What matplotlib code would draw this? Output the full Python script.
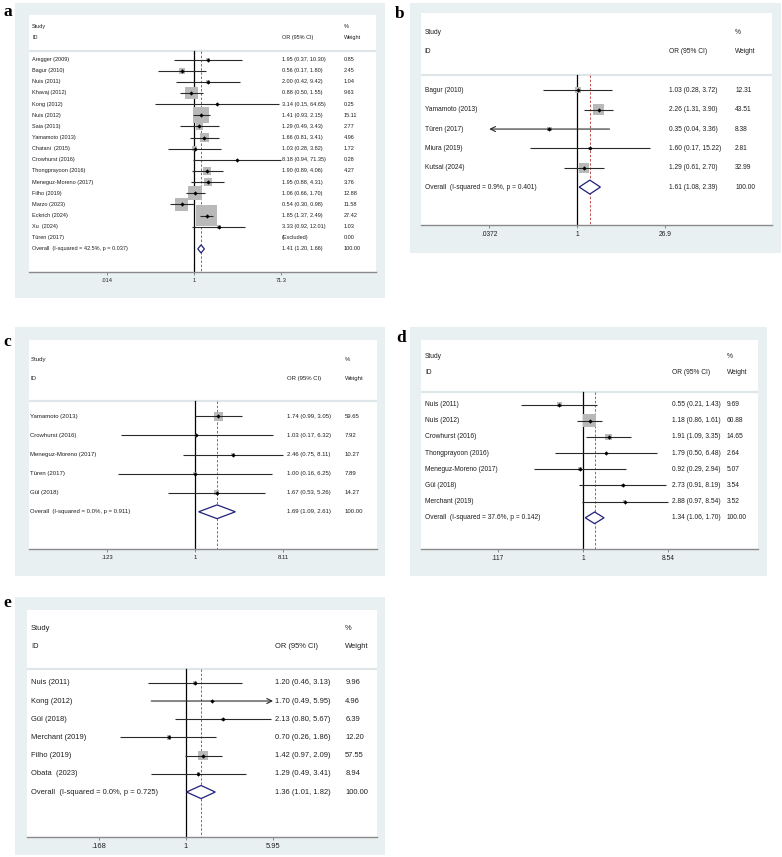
import numpy as np
import matplotlib
matplotlib.use("Agg")
import matplotlib.pyplot as plt
from matplotlib.patches import Rectangle, Polygon
from matplotlib.transforms import blended_transform_factory

plt.rcParams['font.family'] = ['Liberation Sans', 'DejaVu Sans']

# ---------------- data ----------------
a_studies = ["Aregger (2009)", "Bagur (2010)", "Nuis (2011)", "Khavaj (2012)", "Kong (2012)",
             "Nuis (2012)", "Saia (2013)", "Yamamoto (2013)", "Chatani  (2015)", "Crowhurst (2016)",
             "Thongprayoon (2016)", "Meneguz-Moreno (2017)", "Filho (2019)", "Marzo (2023)",
             "Eckrich (2024)", "Xu  (2024)", "Türen (2017)"]
a_or = [1.95, 0.56, 2.00, 0.88, 3.14, 1.41, 1.29, 1.66, 1.03, 8.18, 1.90, 1.95, 1.06, 0.54, 1.85, 3.33, None]
a_lo = [0.37, 0.17, 0.42, 0.50, 0.15, 0.93, 0.49, 0.81, 0.28, 0.94, 0.89, 0.88, 0.66, 0.30, 1.37, 0.92, None]
a_hi = [10.30, 1.80, 9.42, 1.55, 64.65, 2.15, 3.43, 3.41, 3.82, 71.35, 4.06, 4.31, 1.70, 0.98, 2.49, 12.01, None]
a_w = [0.85, 2.45, 1.04, 9.63, 0.25, 15.11, 2.77, 4.96, 1.72, 0.28, 4.27, 3.76, 12.88, 11.58, 27.42, 1.03, 0.00]
a_overall = ("Overall  (I-squared = 42.5%, p = 0.037)", 1.41, 1.20, 1.66)
a_ticks = [0.014, 1, 71.3]
a_ticklabels = [".014", "1", "71.3"]
a_arrows = [""] * 17

b_studies = ["Bagur (2010)", "Yamamoto (2013)", "Türen (2017)", "Miura (2019)", "Kutsal (2024)"]
b_or = [1.03, 2.26, 0.35, 1.60, 1.29]
b_lo = [0.28, 1.31, 0.04, 0.17, 0.61]
b_hi = [3.72, 3.90, 3.36, 15.22, 2.70]
b_w = [12.31, 43.51, 8.38, 2.81, 32.99]
b_overall = ("Overall  (I-squared = 0.9%, p = 0.401)", 1.61, 1.08, 2.39)
b_ticks = [0.0372, 1, 26.9]
b_ticklabels = [".0372", "1", "26.9"]
b_arrows = ["", "", "L", "", ""]

c_studies = ["Yamamoto (2013)", "Crowhurst (2016)", "Meneguz-Moreno (2017)", "Türen (2017)", "Gül (2018)"]
c_or = [1.74, 1.03, 2.46, 1.00, 1.67]
c_lo = [0.99, 0.17, 0.75, 0.16, 0.53]
c_hi = [3.05, 6.32, 8.11, 6.25, 5.26]
c_w = [59.65, 7.92, 10.27, 7.89, 14.27]
c_overall = ("Overall  (I-squared = 0.0%, p = 0.911)", 1.69, 1.09, 2.61)
c_ticks = [0.123, 1, 8.11]
c_ticklabels = [".123", "1", "8.11"]
c_arrows = [""] * 5

d_studies = ["Nuis (2011)", "Nuis (2012)", "Crowhurst (2016)", "Thongprayoon (2016)",
             "Meneguz-Moreno (2017)", "Gül (2018)", "Merchant (2019)"]
d_or = [0.55, 1.18, 1.91, 1.79, 0.92, 2.73, 2.88]
d_lo = [0.21, 0.86, 1.09, 0.50, 0.29, 0.91, 0.97]
d_hi = [1.43, 1.61, 3.35, 6.48, 2.94, 8.19, 8.54]
d_w = [9.69, 60.88, 14.65, 2.64, 5.07, 3.54, 3.52]
d_overall = ("Overall  (I-squared = 37.6%, p = 0.142)", 1.34, 1.06, 1.70)
d_ticks = [0.117, 1, 8.54]
d_ticklabels = [".117", "1", "8.54"]
d_arrows = [""] * 7

e_studies = ["Nuis (2011)", "Kong (2012)", "Gül (2018)", "Merchant (2019)", "Filho (2019)", "Obata  (2023)"]
e_or = [1.20, 1.70, 2.13, 0.70, 1.42, 1.29]
e_lo = [0.46, 0.49, 0.80, 0.26, 0.97, 0.49]
e_hi = [3.13, 5.95, 5.67, 1.86, 2.09, 3.41]
e_w = [9.96, 4.96, 6.39, 12.20, 57.55, 8.94]
e_overall = ("Overall  (I-squared = 0.0%, p = 0.725)", 1.36, 1.01, 1.82)
e_ticks = [0.168, 1, 5.95]
e_ticklabels = [".168", "1", "5.95"]
e_arrows = ["", "R", "", "", "", ""]

# ---------------- layout (pixels) ----------------
W, H = 782, 857
fig = plt.figure(figsize=(W / 100, H / 100), dpi=100)
fig.patch.set_facecolor('white')

BG = '#e9f0f2'
TXT = '#1e1e1e'
BOX = '#b9b9b9'
LINE = '#2a2a2a'
RED = '#c0504d'
NAVY = '#20207a'


def frac_rect(x0, y0, x1, y1):
    return [x0 / W, 1 - y1 / H, (x1 - x0) / W, (y1 - y0) / H]


def panel(letter, label_xy, bg, white, xlim_log, extra, studies, ors, los, his, ws, overall,
          ticks, ticklabels, arrows, fs, k, colx):
    # outer background
    fig.patches.append(Rectangle((bg[0] / W, 1 - bg[3] / H), (bg[2] - bg[0]) / W, (bg[3] - bg[1]) / H,
                                 transform=fig.transFigure, facecolor=BG, edgecolor='none', zorder=-5))
    fig.text(label_xy[0] / W, 1 - label_xy[1] / H, letter, family=['Liberation Serif'], weight='bold',
             fontsize=12.5, ha='left', va='center', color='black')
    ax = fig.add_axes(frac_rect(*white))
    ax.set_zorder(1)
    ax.set_facecolor('white')
    ax.set_xscale('log')
    ax.set_xlim(10 ** xlim_log[0], 10 ** xlim_log[1])
    n = len(studies)
    ax.set_ylim(n + extra, -4.0)
    for s in ['top', 'left', 'right']:
        ax.spines[s].set_visible(False)
    ax.spines['bottom'].set_color('#8a8a8a')
    ax.spines['bottom'].set_linewidth(1.0)
    ax.set_yticks([])
    ax.set_xticks(ticks)
    ax.set_xticklabels(ticklabels)
    ax.minorticks_off()
    ax.tick_params(axis='x', direction='out', length=2.5, width=0.6, color='#777777',
                   labelsize=fs, labelcolor=TXT, pad=2)

    tr = blended_transform_factory(ax.transAxes, ax.transData)
    sx, ox, wx = colx
    ax.text(sx, -3, "Study", transform=tr, fontsize=fs, color=TXT, va='center', ha='left')
    ax.text(sx, -2, "ID", transform=tr, fontsize=fs, color=TXT, va='center', ha='left')
    ax.text(ox, -2, "OR (95% CI)", transform=tr, fontsize=fs, color=TXT, va='center', ha='left')
    ax.text(wx, -3, "%", transform=tr, fontsize=fs, color=TXT, va='center', ha='left')
    ax.text(wx, -2, "Weight", transform=tr, fontsize=fs, color=TXT, va='center', ha='left')
    ax.axhline(-0.78, color='#dfe6e9', lw=1.6, zorder=1)

    ybot = n + extra
    ax.plot([1, 1], [-0.78, ybot], color='black', lw=0.9, zorder=2, clip_on=False)
    ax.plot([overall[1], overall[1]], [-0.78, ybot], color=RED, lw=0.7, ls=(0, (2.5, 1.8)), zorder=2,
            clip_on=False)

    for i in range(n):
        ax.text(sx, i, studies[i], transform=tr, fontsize=fs, color=TXT, va='center', ha='left')
        if ors[i] is None:
            ax.text(ox, i, "(Excluded)", transform=tr, fontsize=fs, color=TXT, va='center', ha='left')
        else:
            ax.text(ox, i, f"{ors[i]:.2f} ({los[i]:.2f}, {his[i]:.2f})", transform=tr, fontsize=fs,
                    color=TXT, va='center', ha='left')
            side = k * np.sqrt(ws[i]) * 0.72
            ax.scatter([ors[i]], [i], marker='s', s=side ** 2, color=BOX, edgecolors='none', zorder=3)
            lo = max(los[i], ticks[0])
            hi = min(his[i], ticks[-1])
            if arrows[i] == "L":
                ax.annotate('', xy=(ticks[0], i), xytext=(hi, i),
                            arrowprops=dict(arrowstyle='->', lw=0.8, color=LINE, mutation_scale=9,
                                            shrinkA=0, shrinkB=0), zorder=4)
            elif arrows[i] == "R":
                ax.annotate('', xy=(ticks[-1], i), xytext=(lo, i),
                            arrowprops=dict(arrowstyle='->', lw=0.8, color=LINE, mutation_scale=9,
                                            shrinkA=0, shrinkB=0), zorder=4)
            else:
                ax.plot([lo, hi], [i, i], color=LINE, lw=0.8, zorder=4, solid_capstyle='butt')
            ax.plot([ors[i]], [i], marker='D', ms=2.2, color='black', mec='black', mew=0, zorder=5)
        ax.text(wx, i, f"{ws[i]:.2f}", transform=tr, fontsize=fs, color=TXT, va='center', ha='left')

    # overall
    label, ov, olo, ohi = overall
    ax.text(sx, n, label, transform=tr, fontsize=fs, color=TXT, va='center', ha='left')
    ax.text(ox, n, f"{ov:.2f} ({olo:.2f}, {ohi:.2f})", transform=tr, fontsize=fs, color=TXT,
            va='center', ha='left')
    ax.text(wx, n, "100.00", transform=tr, fontsize=fs, color=TXT, va='center', ha='left')
    dh = 0.36
    ax.add_patch(Polygon([[olo, n], [ov, n - dh], [ohi, n], [ov, n + dh]], closed=True,
                         facecolor='white', edgecolor=NAVY, lw=0.9, zorder=4))
    return ax


# px per decade derived from the tick positions
panel('a', (4, 12), (15, 3, 385, 298), (29, 15, 376, 272), (-3.52, 3.88), 2.07,
      a_studies, a_or, a_lo, a_hi, a_w, a_overall, a_ticks, a_ticklabels, a_arrows,
      4.0, 4.0, (0.009, 0.729, 0.908))

panel('b', (395, 14), (410, 3, 781, 253), (421, 13, 772, 225), (-2.54, 3.17), 1.96,
      b_studies, b_or, b_lo, b_hi, b_w, b_overall, b_ticks, b_ticklabels, b_arrows,
      4.8, 1.67, (0.011, 0.707, 0.895))

panel('c', (3, 342), (15, 327, 385, 576), (29, 340, 377, 549), (-1.715, 1.88), 1.95,
      c_studies, c_or, c_lo, c_hi, c_w, c_overall, c_ticks, c_ticklabels, c_arrows,
      4.35, 1.17, (0.004, 0.741, 0.908))

panel('d', (396, 338), (410, 327, 767, 576), (421, 340, 758, 549), (-1.774, 1.917), 1.93,
      d_studies, d_or, d_lo, d_hi, d_w, d_overall, d_ticks, d_ticklabels, d_arrows,
      4.75, 1.67, (0.012, 0.745, 0.908))

panel('e', (3, 603), (15, 597, 385, 855), (27, 610, 377, 837), (-1.416, 1.70), 2.47,
      e_studies, e_or, e_lo, e_hi, e_w, e_overall, e_ticks, e_ticklabels, e_arrows,
      5.4, 1.23, (0.011, 0.709, 0.909))

fig.savefig("out.png", dpi=100, facecolor='white')
